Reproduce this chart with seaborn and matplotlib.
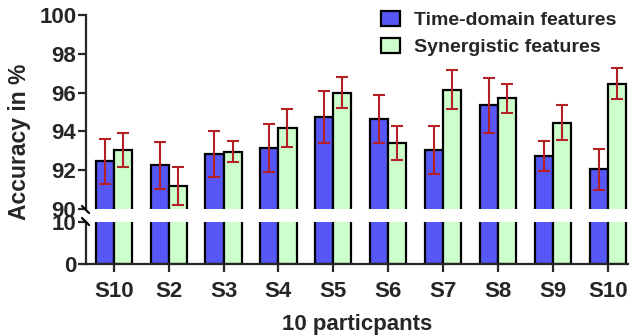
import matplotlib
matplotlib.use("Agg")
import matplotlib.pyplot as plt
from matplotlib.lines import Line2D
import seaborn as sns
import pandas as pd

# ---- data ----
participants = ["S10", "S2", "S3", "S4", "S5", "S6", "S7", "S8", "S9", "S10"]
features = ["Time-domain features", "Synergistic features"]
time_domain = [92.45, 92.25, 92.85, 93.15, 94.75, 94.65, 93.05, 95.35, 92.75, 92.05]
time_domain_err = [1.15, 1.2, 1.18, 1.25, 1.33, 1.24, 1.25, 1.42, 0.78, 1.05]
synergistic = [93.05, 91.2, 92.95, 94.2, 96.0, 93.4, 96.15, 95.7, 94.45, 96.45]
synergistic_err = [0.88, 0.98, 0.55, 0.98, 0.8, 0.9, 1.0, 0.76, 0.9, 0.8]

W, H = 629, 335
BLUE = "#5757F7"
GREEN = "#CCFFCC"
ERR = "#B52025"

sns.set_style("ticks")
plt.rcParams["font.family"] = ["Liberation Sans", "DejaVu Sans"]
plt.rcParams["font.weight"] = "bold"

slots = [str(i) for i in range(len(participants))]
df = pd.DataFrame({
    "slot": slots * 2,
    "acc": time_domain + synergistic,
    "feature": [features[0]] * len(slots) + [features[1]] * len(slots),
})

fig = plt.figure(figsize=(W / 100, H / 100), dpi=100)

def fbox(x0, y0, x1, y1):
    return [x0 / W, 1 - y1 / H, (x1 - x0) / W, (y1 - y0) / H]

ax_top = fig.add_axes(fbox(86, 15, 629, 209))
ax_bot = fig.add_axes(fbox(86, 222, 629, 264))

for ax, show_leg in ((ax_top, True), (ax_bot, False)):
    sns.barplot(data=df, x="slot", y="acc", hue="feature", order=slots,
                hue_order=features, palette=[BLUE, GREEN], width=0.66,
                saturation=1, edgecolor="black", linewidth=1.6, errorbar=None,
                legend=show_leg, ax=ax)
    ax.set_xlim(-0.505, 9.385)
    for s in ("top", "right"):
        ax.spines[s].set_visible(False)
    ax.spines["left"].set_linewidth(1.6)
    ax.spines["bottom"].set_linewidth(1.6)
    ax.tick_params(axis="y", width=1.6, length=6, labelsize=16, pad=1)
    ax.tick_params(axis="x", width=1.6, length=6, labelsize=16, pad=6)
    ax.set_xlabel("")
    ax.set_ylabel("")

# error bars (top panel only)
for cont, err in zip(ax_top.containers, [time_domain_err, synergistic_err]):
    xs = [b.get_x() + b.get_width() / 2 for b in cont]
    ys = [b.get_height() for b in cont]
    ax_top.errorbar(xs, ys, yerr=err, fmt="none", ecolor=ERR,
                    elinewidth=1.5, capsize=4, capthick=1.5, zorder=5)

ax_top.set_ylim(90, 100)
ax_top.set_yticks([90, 92, 94, 96, 98, 100])
ax_top.set_yticklabels(["90", "92", "94", "96", "98", "100"], fontweight="bold", fontsize=16)
ax_top.spines["bottom"].set_visible(False)
ax_top.tick_params(axis="x", bottom=False, labelbottom=False)

ax_bot.set_ylim(0, 10)
ax_bot.set_yticks([0, 10])
ax_bot.set_yticklabels(["0", "10"], fontweight="bold", fontsize=16)
ax_bot.set_xticks(range(len(participants)))
ax_bot.set_xticklabels(participants, fontweight="bold", fontsize=16)
ax_bot.set_xlabel("10 particpants", fontsize=16, fontweight="bold", labelpad=9)

fig.text(20 / W, 1 - 142 / H, "Accuracy in %", rotation=90, fontsize=16.5,
         fontweight="bold", ha="center", va="center")

# axis break marks
for (x0, y0, x1, y1) in ((82, 206, 89, 213), (82, 218, 89, 225)):
    fig.add_artist(Line2D([x0 / W, x1 / W], [1 - y0 / H, 1 - y1 / H],
                          color="black", linewidth=1.6, transform=fig.transFigure))

# legend
handles, labels = ax_top.get_legend_handles_labels()
ax_top.get_legend().remove()
leg = fig.legend(handles, labels, loc="upper left",
                 bbox_to_anchor=(381 / W, 1 - 11 / H), frameon=False,
                 prop={"size": 14, "weight": "bold"}, handlelength=1.0,
                 handleheight=0.8, handletextpad=0.7, labelspacing=0.45,
                 borderpad=0, borderaxespad=0)
for p in leg.get_patches():
    p.set_edgecolor("black")
    p.set_linewidth(1.6)

fig.savefig("out.png", dpi=100)
